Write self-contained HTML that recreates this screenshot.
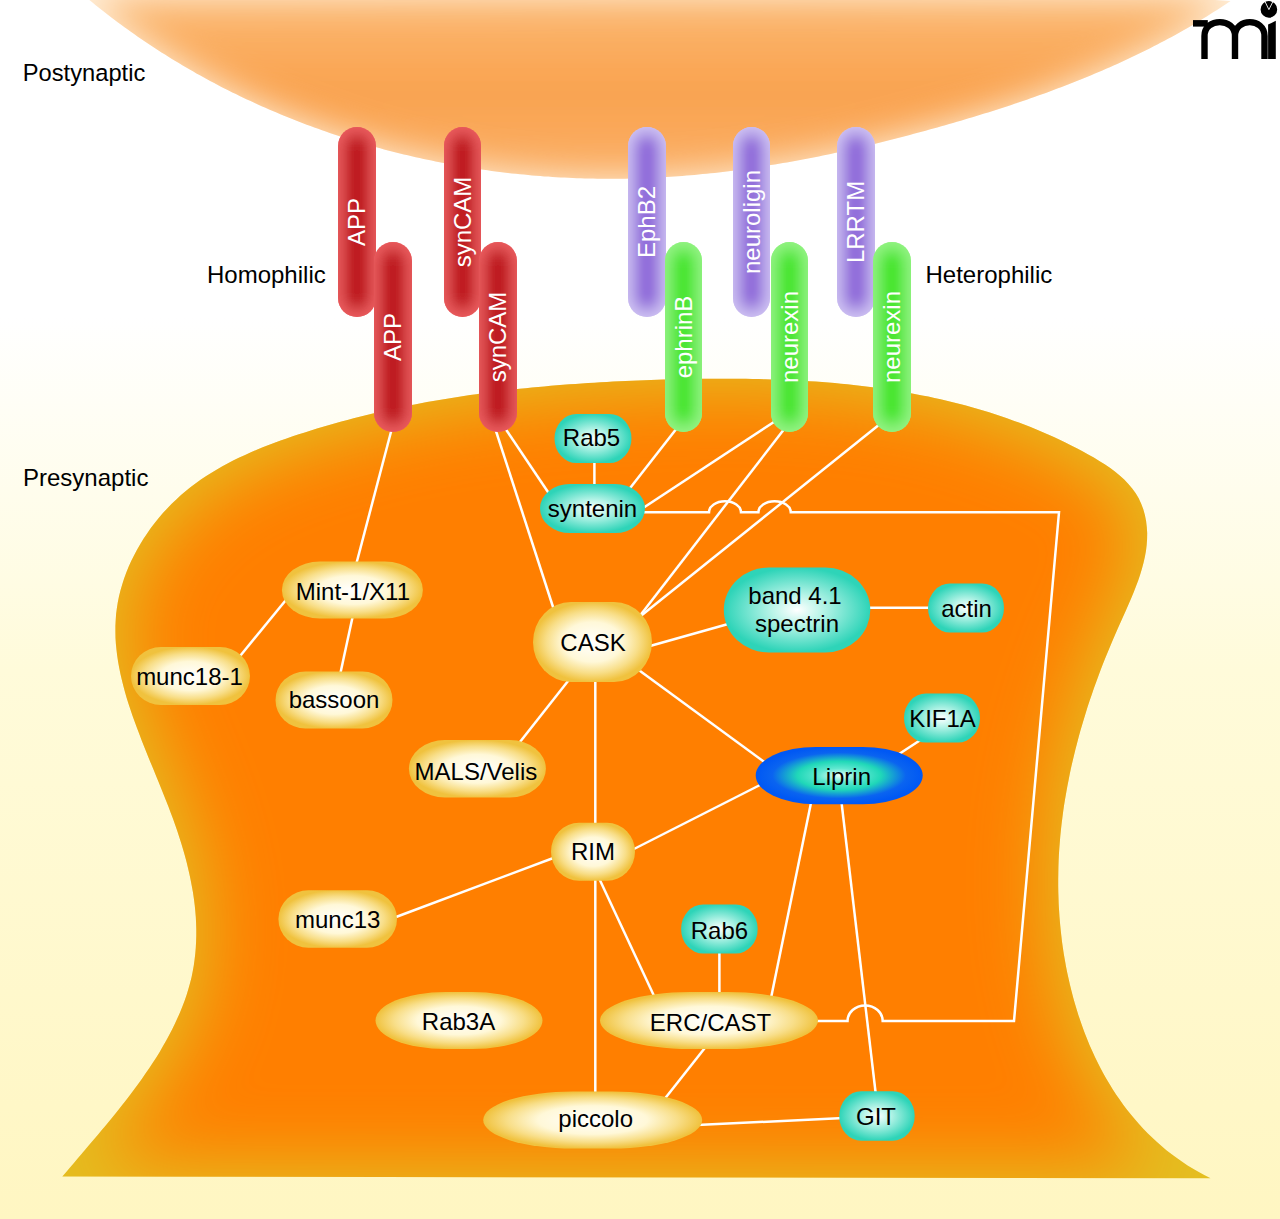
<!DOCTYPE html><html><head><meta charset="utf-8"><style>html,body{margin:0;padding:0;background:#fff;}svg{display:block;}text{font-family:"Liberation Sans", sans-serif;}</style></head><body>
<svg width="1280" height="1219" viewBox="0 0 1280 1219">
<defs>
<linearGradient id="bg" x1="0" y1="0" x2="0" y2="1219" gradientUnits="userSpaceOnUse"><stop offset="0.26" stop-color="#FFFFFF"/><stop offset="0.55" stop-color="#FFFBDA"/><stop offset="1" stop-color="#FFF6C2"/></linearGradient>
<filter id="blurPost" x="-20%" y="-50%" width="140%" height="200%"><feGaussianBlur stdDeviation="18"/></filter>
<linearGradient id="postG" x1="0" y1="0" x2="0" y2="180" gradientUnits="userSpaceOnUse"><stop offset="0" stop-color="#FBB872"/><stop offset="0.5" stop-color="#F9A24E"/><stop offset="1" stop-color="#FAB068"/></linearGradient>
<filter id="blurPre" x="-20%" y="-20%" width="140%" height="140%"><feMorphology operator="erode" radius="12"/><feGaussianBlur stdDeviation="36"/></filter>
<filter id="blurR" x="-50%" y="-50%" width="200%" height="200%"><feGaussianBlur stdDeviation="8"/></filter>
<clipPath id="cPost"><path d="M89.0,-0.3 L92.2,2.3 L95.4,4.9 L98.6,7.5 L101.8,10.0 L105.0,12.5 L108.2,15.0 L111.4,17.5 L114.7,20.0 L118.0,22.4 L121.2,24.8 L124.5,27.2 L127.8,29.6 L131.2,32.0 L134.5,34.3 L137.8,36.7 L141.2,39.0 L144.5,41.3 L147.9,43.5 L151.3,45.8 L154.7,48.0 L158.1,50.3 L161.5,52.4 L165.0,54.6 L168.4,56.8 L171.9,58.9 L175.3,61.0 L178.8,63.1 L182.3,65.2 L185.8,67.3 L189.3,69.3 L192.9,71.3 L196.4,73.4 L199.9,75.3 L203.5,77.3 L207.0,79.3 L210.6,81.2 L214.2,83.1 L217.8,85.0 L221.4,86.9 L225.0,88.7 L228.6,90.5 L232.3,92.4 L235.9,94.1 L239.6,95.9 L243.2,97.7 L246.9,99.4 L250.6,101.1 L254.2,102.8 L257.9,104.5 L261.6,106.2 L265.4,107.8 L269.1,109.5 L272.8,111.1 L276.5,112.6 L280.3,114.2 L284.0,115.8 L287.8,117.3 L291.6,118.8 L295.3,120.3 L299.1,121.8 L302.9,123.2 L306.7,124.7 L310.5,126.1 L314.3,127.5 L318.2,128.8 L322.0,130.2 L325.8,131.5 L329.7,132.9 L333.5,134.2 L337.4,135.5 L341.2,136.7 L345.1,138.0 L349.0,139.2 L352.9,140.4 L356.7,141.6 L360.6,142.8 L364.5,143.9 L368.4,145.0 L372.3,146.2 L376.3,147.3 L380.2,148.3 L384.1,149.4 L388.0,150.4 L392.0,151.5 L395.9,152.5 L399.9,153.4 L403.8,154.4 L407.8,155.3 L411.7,156.3 L415.7,157.2 L419.7,158.1 L423.6,158.9 L427.6,159.8 L431.6,160.6 L435.6,161.4 L439.6,162.2 L443.6,163.0 L447.6,163.8 L451.6,164.5 L455.6,165.2 L459.6,165.9 L463.6,166.6 L467.6,167.3 L471.6,167.9 L475.6,168.6 L479.7,169.2 L483.7,169.7 L487.7,170.3 L491.7,170.9 L495.8,171.4 L499.8,171.9 L503.8,172.4 L507.9,172.9 L511.9,173.4 L516.0,173.8 L520.0,174.2 L524.1,174.6 L528.1,175.0 L532.2,175.4 L536.2,175.7 L540.3,176.0 L544.3,176.4 L548.4,176.6 L552.5,176.9 L556.5,177.2 L560.6,177.4 L564.6,177.6 L568.7,177.8 L572.8,178.0 L576.8,178.2 L580.9,178.3 L584.9,178.4 L589.0,178.5 L593.1,178.6 L597.1,178.7 L601.2,178.7 L605.2,178.8 L609.3,178.8 L613.4,178.8 L617.4,178.8 L621.5,178.7 L625.6,178.7 L629.6,178.6 L633.7,178.5 L637.7,178.4 L641.8,178.2 L645.8,178.1 L649.9,177.9 L653.9,177.7 L658.0,177.5 L662.0,177.3 L666.1,177.0 L670.1,176.8 L674.2,176.5 L678.2,176.2 L682.3,175.9 L686.3,175.6 L690.3,175.2 L694.4,174.9 L698.4,174.5 L702.5,174.1 L706.5,173.7 L710.5,173.3 L714.6,172.9 L718.6,172.4 L722.6,171.9 L726.7,171.4 L730.7,170.9 L734.7,170.4 L738.7,169.9 L742.7,169.4 L746.8,168.8 L750.8,168.2 L754.8,167.6 L758.8,167.0 L762.8,166.4 L766.8,165.8 L770.8,165.1 L774.9,164.5 L778.9,163.8 L782.9,163.1 L786.9,162.4 L790.9,161.7 L794.9,161.0 L798.9,160.2 L802.8,159.5 L806.8,158.7 L810.8,158.0 L814.8,157.2 L818.8,156.4 L822.8,155.6 L826.8,154.7 L830.7,153.9 L834.7,153.0 L838.7,152.2 L842.7,151.3 L846.6,150.4 L850.6,149.5 L854.6,148.6 L858.5,147.7 L862.5,146.8 L866.4,145.8 L870.4,144.9 L874.4,143.9 L878.3,143.0 L882.3,142.0 L886.2,141.0 L890.1,140.0 L894.1,139.0 L898.0,138.0 L902.0,137.0 L905.9,135.9 L909.8,134.9 L913.8,133.8 L917.7,132.8 L921.6,131.7 L925.6,130.7 L929.5,129.6 L933.4,128.5 L937.3,127.4 L941.3,126.3 L945.2,125.2 L949.1,124.1 L953.0,122.9 L956.9,121.8 L960.8,120.7 L964.7,119.5 L968.6,118.3 L972.5,117.2 L976.4,116.0 L980.3,114.8 L984.2,113.6 L988.1,112.4 L992.0,111.2 L995.9,109.9 L999.7,108.7 L1003.6,107.4 L1007.5,106.2 L1011.3,104.9 L1015.2,103.6 L1019.1,102.3 L1022.9,101.0 L1026.8,99.7 L1030.6,98.3 L1034.4,97.0 L1038.3,95.6 L1042.1,94.3 L1045.9,92.9 L1049.7,91.5 L1053.5,90.1 L1057.3,88.6 L1061.1,87.2 L1064.9,85.8 L1068.7,84.3 L1072.5,82.8 L1076.2,81.3 L1080.0,79.8 L1083.8,78.3 L1087.5,76.7 L1091.2,75.2 L1095.0,73.6 L1098.7,72.0 L1102.4,70.4 L1106.1,68.8 L1109.9,67.2 L1113.6,65.6 L1117.2,63.9 L1120.9,62.2 L1124.6,60.5 L1128.3,58.8 L1131.9,57.1 L1135.6,55.3 L1139.2,53.6 L1142.9,51.8 L1146.5,50.0 L1150.1,48.2 L1153.7,46.3 L1157.3,44.5 L1160.9,42.6 L1164.5,40.7 L1168.0,38.8 L1171.6,36.9 L1175.2,34.9 L1178.7,32.9 L1182.2,30.9 L1185.8,28.9 L1189.3,26.9 L1192.8,24.9 L1196.3,22.8 L1199.7,20.7 L1203.2,18.6 L1206.7,16.5 L1210.1,14.3 L1213.5,12.1 L1217.0,9.9 L1220.4,7.7 L1223.8,5.5 L1227.2,3.2 L1230.5,0.9 L1180,-2 L660,-3 L140,-2 Z"/></clipPath>
<clipPath id="cPre"><path d="M62.3,1176.6 L66.0,1172.2 L69.8,1167.7 L73.7,1163.2 L77.6,1158.6 L81.5,1154.0 L85.5,1149.3 L89.5,1144.6 L93.6,1139.8 L97.7,1135.0 L101.8,1130.1 L105.9,1125.2 L110.0,1120.3 L114.1,1115.3 L118.1,1110.2 L122.2,1105.1 L126.2,1100.0 L130.2,1094.8 L134.1,1089.6 L138.0,1084.3 L141.8,1079.0 L145.5,1073.6 L149.2,1068.2 L152.8,1062.8 L156.3,1057.4 L159.7,1051.9 L162.9,1046.3 L166.1,1040.7 L169.2,1035.1 L172.1,1029.5 L174.9,1023.8 L177.5,1018.1 L180.0,1012.4 L182.4,1006.6 L184.6,1000.8 L186.6,995.0 L188.4,989.1 L190.0,983.3 L191.5,977.4 L192.7,971.4 L193.8,965.5 L194.6,959.5 L195.3,953.5 L195.8,947.5 L196.1,941.4 L196.3,935.4 L196.3,929.3 L196.1,923.2 L195.8,917.1 L195.3,911.0 L194.7,904.9 L193.9,898.7 L193.0,892.6 L191.9,886.4 L190.7,880.3 L189.4,874.1 L188.0,868.0 L186.5,861.8 L184.9,855.7 L183.1,849.5 L181.3,843.4 L179.3,837.2 L177.3,831.1 L175.2,825.0 L173.0,818.8 L170.7,812.7 L168.4,806.6 L166.0,800.5 L163.6,794.4 L161.1,788.3 L158.7,782.3 L156.2,776.2 L153.7,770.1 L151.2,764.1 L148.7,758.0 L146.3,752.0 L143.9,745.9 L141.5,739.9 L139.2,733.8 L136.9,727.8 L134.7,721.8 L132.5,715.8 L130.5,709.8 L128.5,703.7 L126.6,697.7 L124.9,691.7 L123.3,685.7 L121.8,679.8 L120.4,673.8 L119.2,667.8 L118.1,661.8 L117.2,655.8 L116.5,649.9 L115.9,643.9 L115.5,637.9 L115.4,632.0 L115.4,626.0 L115.7,620.0 L116.1,614.1 L116.9,608.1 L117.8,602.2 L119.0,596.2 L120.5,590.3 L122.2,584.4 L124.1,578.5 L126.3,572.6 L128.6,566.8 L131.2,561.1 L134.0,555.4 L137.0,549.8 L140.2,544.2 L143.5,538.8 L147.1,533.4 L150.8,528.1 L154.7,523.0 L158.7,518.0 L162.9,513.1 L167.2,508.4 L171.7,503.8 L176.3,499.4 L181.0,495.1 L185.8,491.0 L190.7,487.0 L195.8,483.2 L200.9,479.6 L206.2,476.1 L211.5,472.7 L216.9,469.4 L222.4,466.3 L228.0,463.3 L233.6,460.3 L239.3,457.5 L245.1,454.9 L250.9,452.3 L256.8,449.7 L262.7,447.3 L268.6,445.0 L274.6,442.7 L280.6,440.5 L286.6,438.4 L292.7,436.3 L298.8,434.3 L304.8,432.4 L310.9,430.5 L317.0,428.6 L323.1,426.8 L329.2,425.0 L335.3,423.2 L341.4,421.6 L347.5,419.9 L353.6,418.3 L359.7,416.7 L365.8,415.2 L371.9,413.7 L378.0,412.3 L384.1,410.9 L390.2,409.5 L396.3,408.2 L402.5,406.9 L408.6,405.6 L414.7,404.4 L420.9,403.2 L427.0,402.1 L433.2,401.0 L439.3,399.9 L445.5,398.9 L451.6,397.9 L457.8,396.9 L463.9,395.9 L470.1,395.0 L476.3,394.2 L482.4,393.3 L488.6,392.5 L494.8,391.7 L501.0,390.9 L507.2,390.2 L513.4,389.5 L519.6,388.8 L525.8,388.2 L532.0,387.6 L538.2,387.0 L544.4,386.4 L550.7,385.8 L556.9,385.3 L563.1,384.8 L569.4,384.3 L575.6,383.9 L581.9,383.5 L588.1,383.0 L594.4,382.7 L600.6,382.3 L606.9,381.9 L613.2,381.6 L619.5,381.3 L625.7,381.0 L632.0,380.7 L638.3,380.5 L644.6,380.3 L650.9,380.0 L657.2,379.8 L663.5,379.6 L669.9,379.5 L676.2,379.3 L682.5,379.2 L688.9,379.0 L695.2,378.9 L701.5,378.8 L707.9,378.8 L714.2,378.7 L720.6,378.7 L726.9,378.7 L733.3,378.7 L739.6,378.8 L746.0,378.8 L752.3,378.9 L758.7,379.1 L765.0,379.2 L771.4,379.4 L777.7,379.6 L784.1,379.9 L790.4,380.1 L796.8,380.5 L803.1,380.8 L809.4,381.2 L815.7,381.6 L822.1,382.1 L828.4,382.6 L834.7,383.1 L841.0,383.7 L847.3,384.3 L853.6,385.0 L859.9,385.7 L866.1,386.5 L872.4,387.3 L878.6,388.1 L884.9,389.0 L891.1,389.9 L897.3,390.9 L903.5,392.0 L909.7,393.1 L915.9,394.2 L922.1,395.4 L928.3,396.6 L934.4,397.9 L940.6,399.3 L946.7,400.7 L952.8,402.2 L958.9,403.7 L965.0,405.3 L971.0,407.0 L977.1,408.7 L983.1,410.5 L989.1,412.3 L995.1,414.3 L1001.1,416.2 L1007.0,418.3 L1012.9,420.4 L1018.9,422.6 L1024.8,424.8 L1030.6,427.1 L1036.5,429.5 L1042.3,432.0 L1048.1,434.5 L1053.9,437.1 L1059.7,439.8 L1065.4,442.6 L1071.2,445.4 L1076.8,448.3 L1082.5,451.3 L1088.2,454.4 L1093.8,457.6 L1099.3,460.9 L1104.7,464.3 L1109.9,467.8 L1114.9,471.6 L1119.7,475.5 L1124.2,479.6 L1128.4,483.9 L1132.2,488.4 L1135.7,493.2 L1138.7,498.3 L1141.2,503.7 L1143.3,509.3 L1144.9,515.1 L1146.1,521.1 L1146.8,527.0 L1147.2,532.9 L1147.1,538.9 L1146.7,544.8 L1146.0,550.7 L1144.9,556.7 L1143.6,562.6 L1142.0,568.5 L1140.2,574.5 L1138.2,580.4 L1136.0,586.3 L1133.7,592.2 L1131.2,598.2 L1128.7,604.1 L1126.1,610.1 L1123.4,616.0 L1120.7,622.0 L1118.0,628.0 L1115.4,634.0 L1112.8,640.0 L1110.3,646.0 L1107.8,652.0 L1105.3,658.0 L1102.9,664.1 L1100.6,670.1 L1098.3,676.2 L1096.1,682.3 L1093.9,688.3 L1091.8,694.4 L1089.7,700.5 L1087.7,706.6 L1085.8,712.7 L1083.9,718.9 L1082.1,725.0 L1080.3,731.1 L1078.6,737.2 L1077.0,743.4 L1075.4,749.5 L1073.9,755.7 L1072.4,761.9 L1071.0,768.0 L1069.7,774.2 L1068.5,780.4 L1067.3,786.6 L1066.2,792.7 L1065.1,798.9 L1064.1,805.1 L1063.2,811.3 L1062.4,817.5 L1061.6,823.7 L1060.9,829.9 L1060.3,836.1 L1059.8,842.3 L1059.3,848.5 L1058.9,854.8 L1058.6,861.0 L1058.4,867.2 L1058.3,873.4 L1058.2,879.6 L1058.2,885.8 L1058.3,892.0 L1058.5,898.2 L1058.7,904.5 L1059.1,910.7 L1059.5,916.9 L1060.0,923.1 L1060.6,929.3 L1061.3,935.5 L1062.0,941.7 L1062.9,947.9 L1063.8,954.1 L1064.9,960.3 L1066.0,966.4 L1067.2,972.6 L1068.6,978.8 L1070.0,984.9 L1071.5,991.1 L1073.1,997.2 L1074.8,1003.3 L1076.6,1009.3 L1078.5,1015.4 L1080.5,1021.3 L1082.6,1027.3 L1084.8,1033.2 L1087.1,1039.1 L1089.5,1044.9 L1092.1,1050.7 L1094.7,1056.4 L1097.4,1062.1 L1100.3,1067.7 L1103.2,1073.2 L1106.3,1078.7 L1109.5,1084.1 L1112.8,1089.4 L1116.2,1094.7 L1119.8,1099.8 L1123.4,1104.9 L1127.2,1109.9 L1131.1,1114.8 L1135.1,1119.6 L1139.2,1124.3 L1143.5,1128.9 L1147.9,1133.4 L1152.4,1137.8 L1157.0,1142.1 L1161.8,1146.3 L1166.7,1150.4 L1171.7,1154.3 L1176.9,1158.1 L1182.2,1161.8 L1187.6,1165.4 L1193.1,1168.8 L1198.8,1172.1 L1204.7,1175.2 L1210.6,1178.2 Z"/></clipPath>
<clipPath id="cR0"><path d="M338.0,146.0 A19.0,19.0 0 0 1 376.0,146.0 L376.0,298.0 A19.0,19.0 0 0 1 338.0,298.0 Z"/></clipPath>
<clipPath id="cR1"><path d="M444.0,145.5 A18.5,18.5 0 0 1 481.0,145.5 L481.0,298.5 A18.5,18.5 0 0 1 444.0,298.5 Z"/></clipPath>
<clipPath id="cR2"><path d="M374.0,261.0 A19.0,19.0 0 0 1 412.0,261.0 L412.0,413.0 A19.0,19.0 0 0 1 374.0,413.0 Z"/></clipPath>
<clipPath id="cR3"><path d="M479.0,261.0 A19.0,19.0 0 0 1 517.0,261.0 L517.0,413.0 A19.0,19.0 0 0 1 479.0,413.0 Z"/></clipPath>
<clipPath id="cR4"><path d="M628.0,146.0 A19.0,19.0 0 0 1 666.0,146.0 L666.0,298.0 A19.0,19.0 0 0 1 628.0,298.0 Z"/></clipPath>
<clipPath id="cR5"><path d="M733.0,145.5 A18.5,18.5 0 0 1 770.0,145.5 L770.0,298.5 A18.5,18.5 0 0 1 733.0,298.5 Z"/></clipPath>
<clipPath id="cR6"><path d="M837.0,146.0 A19.0,19.0 0 0 1 875.0,146.0 L875.0,298.0 A19.0,19.0 0 0 1 837.0,298.0 Z"/></clipPath>
<clipPath id="cR7"><path d="M665.0,260.5 A18.5,18.5 0 0 1 702.0,260.5 L702.0,413.5 A18.5,18.5 0 0 1 665.0,413.5 Z"/></clipPath>
<clipPath id="cR8"><path d="M771.0,260.5 A18.5,18.5 0 0 1 808.0,260.5 L808.0,413.5 A18.5,18.5 0 0 1 771.0,413.5 Z"/></clipPath>
<clipPath id="cR9"><path d="M873.0,261.0 A19.0,19.0 0 0 1 911.0,261.0 L911.0,413.0 A19.0,19.0 0 0 1 873.0,413.0 Z"/></clipPath>
<radialGradient id="gY" cx="0.5" cy="0.5" r="0.5"><stop offset="0" stop-color="#FFFFFF"/><stop offset="0.5" stop-color="#FFF8D8"/><stop offset="0.78" stop-color="#F8DE88"/><stop offset="1" stop-color="#F0C23E"/></radialGradient>
<radialGradient id="gT" cx="0.5" cy="0.5" r="0.5"><stop offset="0" stop-color="#FFFFFF"/><stop offset="0.35" stop-color="#B8F4E8"/><stop offset="1" stop-color="#2ED4B8"/></radialGradient>
<radialGradient id="gB" cx="0.5" cy="0.5" r="0.5"><stop offset="0" stop-color="#E8FFF8"/><stop offset="0.25" stop-color="#60E8D0"/><stop offset="0.5" stop-color="#20D8B8"/><stop offset="0.8" stop-color="#0A64F0"/><stop offset="1" stop-color="#0058F4"/></radialGradient>
</defs>
<rect width="1280" height="1219" fill="url(#bg)"/>
<g clip-path="url(#cPost)"><rect x="0" y="-20" width="1280" height="220" fill="#FFF0DC"/>
<path d="M89.0,-0.3 L92.2,2.3 L95.4,4.9 L98.6,7.5 L101.8,10.0 L105.0,12.5 L108.2,15.0 L111.4,17.5 L114.7,20.0 L118.0,22.4 L121.2,24.8 L124.5,27.2 L127.8,29.6 L131.2,32.0 L134.5,34.3 L137.8,36.7 L141.2,39.0 L144.5,41.3 L147.9,43.5 L151.3,45.8 L154.7,48.0 L158.1,50.3 L161.5,52.4 L165.0,54.6 L168.4,56.8 L171.9,58.9 L175.3,61.0 L178.8,63.1 L182.3,65.2 L185.8,67.3 L189.3,69.3 L192.9,71.3 L196.4,73.4 L199.9,75.3 L203.5,77.3 L207.0,79.3 L210.6,81.2 L214.2,83.1 L217.8,85.0 L221.4,86.9 L225.0,88.7 L228.6,90.5 L232.3,92.4 L235.9,94.1 L239.6,95.9 L243.2,97.7 L246.9,99.4 L250.6,101.1 L254.2,102.8 L257.9,104.5 L261.6,106.2 L265.4,107.8 L269.1,109.5 L272.8,111.1 L276.5,112.6 L280.3,114.2 L284.0,115.8 L287.8,117.3 L291.6,118.8 L295.3,120.3 L299.1,121.8 L302.9,123.2 L306.7,124.7 L310.5,126.1 L314.3,127.5 L318.2,128.8 L322.0,130.2 L325.8,131.5 L329.7,132.9 L333.5,134.2 L337.4,135.5 L341.2,136.7 L345.1,138.0 L349.0,139.2 L352.9,140.4 L356.7,141.6 L360.6,142.8 L364.5,143.9 L368.4,145.0 L372.3,146.2 L376.3,147.3 L380.2,148.3 L384.1,149.4 L388.0,150.4 L392.0,151.5 L395.9,152.5 L399.9,153.4 L403.8,154.4 L407.8,155.3 L411.7,156.3 L415.7,157.2 L419.7,158.1 L423.6,158.9 L427.6,159.8 L431.6,160.6 L435.6,161.4 L439.6,162.2 L443.6,163.0 L447.6,163.8 L451.6,164.5 L455.6,165.2 L459.6,165.9 L463.6,166.6 L467.6,167.3 L471.6,167.9 L475.6,168.6 L479.7,169.2 L483.7,169.7 L487.7,170.3 L491.7,170.9 L495.8,171.4 L499.8,171.9 L503.8,172.4 L507.9,172.9 L511.9,173.4 L516.0,173.8 L520.0,174.2 L524.1,174.6 L528.1,175.0 L532.2,175.4 L536.2,175.7 L540.3,176.0 L544.3,176.4 L548.4,176.6 L552.5,176.9 L556.5,177.2 L560.6,177.4 L564.6,177.6 L568.7,177.8 L572.8,178.0 L576.8,178.2 L580.9,178.3 L584.9,178.4 L589.0,178.5 L593.1,178.6 L597.1,178.7 L601.2,178.7 L605.2,178.8 L609.3,178.8 L613.4,178.8 L617.4,178.8 L621.5,178.7 L625.6,178.7 L629.6,178.6 L633.7,178.5 L637.7,178.4 L641.8,178.2 L645.8,178.1 L649.9,177.9 L653.9,177.7 L658.0,177.5 L662.0,177.3 L666.1,177.0 L670.1,176.8 L674.2,176.5 L678.2,176.2 L682.3,175.9 L686.3,175.6 L690.3,175.2 L694.4,174.9 L698.4,174.5 L702.5,174.1 L706.5,173.7 L710.5,173.3 L714.6,172.9 L718.6,172.4 L722.6,171.9 L726.7,171.4 L730.7,170.9 L734.7,170.4 L738.7,169.9 L742.7,169.4 L746.8,168.8 L750.8,168.2 L754.8,167.6 L758.8,167.0 L762.8,166.4 L766.8,165.8 L770.8,165.1 L774.9,164.5 L778.9,163.8 L782.9,163.1 L786.9,162.4 L790.9,161.7 L794.9,161.0 L798.9,160.2 L802.8,159.5 L806.8,158.7 L810.8,158.0 L814.8,157.2 L818.8,156.4 L822.8,155.6 L826.8,154.7 L830.7,153.9 L834.7,153.0 L838.7,152.2 L842.7,151.3 L846.6,150.4 L850.6,149.5 L854.6,148.6 L858.5,147.7 L862.5,146.8 L866.4,145.8 L870.4,144.9 L874.4,143.9 L878.3,143.0 L882.3,142.0 L886.2,141.0 L890.1,140.0 L894.1,139.0 L898.0,138.0 L902.0,137.0 L905.9,135.9 L909.8,134.9 L913.8,133.8 L917.7,132.8 L921.6,131.7 L925.6,130.7 L929.5,129.6 L933.4,128.5 L937.3,127.4 L941.3,126.3 L945.2,125.2 L949.1,124.1 L953.0,122.9 L956.9,121.8 L960.8,120.7 L964.7,119.5 L968.6,118.3 L972.5,117.2 L976.4,116.0 L980.3,114.8 L984.2,113.6 L988.1,112.4 L992.0,111.2 L995.9,109.9 L999.7,108.7 L1003.6,107.4 L1007.5,106.2 L1011.3,104.9 L1015.2,103.6 L1019.1,102.3 L1022.9,101.0 L1026.8,99.7 L1030.6,98.3 L1034.4,97.0 L1038.3,95.6 L1042.1,94.3 L1045.9,92.9 L1049.7,91.5 L1053.5,90.1 L1057.3,88.6 L1061.1,87.2 L1064.9,85.8 L1068.7,84.3 L1072.5,82.8 L1076.2,81.3 L1080.0,79.8 L1083.8,78.3 L1087.5,76.7 L1091.2,75.2 L1095.0,73.6 L1098.7,72.0 L1102.4,70.4 L1106.1,68.8 L1109.9,67.2 L1113.6,65.6 L1117.2,63.9 L1120.9,62.2 L1124.6,60.5 L1128.3,58.8 L1131.9,57.1 L1135.6,55.3 L1139.2,53.6 L1142.9,51.8 L1146.5,50.0 L1150.1,48.2 L1153.7,46.3 L1157.3,44.5 L1160.9,42.6 L1164.5,40.7 L1168.0,38.8 L1171.6,36.9 L1175.2,34.9 L1178.7,32.9 L1182.2,30.9 L1185.8,28.9 L1189.3,26.9 L1192.8,24.9 L1196.3,22.8 L1199.7,20.7 L1203.2,18.6 L1206.7,16.5 L1210.1,14.3 L1213.5,12.1 L1217.0,9.9 L1220.4,7.7 L1223.8,5.5 L1227.2,3.2 L1230.5,0.9 L1180,-2 L660,-3 L140,-2 Z" fill="url(#postG)" filter="url(#blurPost)"/></g>
<g clip-path="url(#cPre)"><rect x="0" y="350" width="1280" height="869" fill="#E4BE20"/>
<path d="M62.3,1176.6 L66.0,1172.2 L69.8,1167.7 L73.7,1163.2 L77.6,1158.6 L81.5,1154.0 L85.5,1149.3 L89.5,1144.6 L93.6,1139.8 L97.7,1135.0 L101.8,1130.1 L105.9,1125.2 L110.0,1120.3 L114.1,1115.3 L118.1,1110.2 L122.2,1105.1 L126.2,1100.0 L130.2,1094.8 L134.1,1089.6 L138.0,1084.3 L141.8,1079.0 L145.5,1073.6 L149.2,1068.2 L152.8,1062.8 L156.3,1057.4 L159.7,1051.9 L162.9,1046.3 L166.1,1040.7 L169.2,1035.1 L172.1,1029.5 L174.9,1023.8 L177.5,1018.1 L180.0,1012.4 L182.4,1006.6 L184.6,1000.8 L186.6,995.0 L188.4,989.1 L190.0,983.3 L191.5,977.4 L192.7,971.4 L193.8,965.5 L194.6,959.5 L195.3,953.5 L195.8,947.5 L196.1,941.4 L196.3,935.4 L196.3,929.3 L196.1,923.2 L195.8,917.1 L195.3,911.0 L194.7,904.9 L193.9,898.7 L193.0,892.6 L191.9,886.4 L190.7,880.3 L189.4,874.1 L188.0,868.0 L186.5,861.8 L184.9,855.7 L183.1,849.5 L181.3,843.4 L179.3,837.2 L177.3,831.1 L175.2,825.0 L173.0,818.8 L170.7,812.7 L168.4,806.6 L166.0,800.5 L163.6,794.4 L161.1,788.3 L158.7,782.3 L156.2,776.2 L153.7,770.1 L151.2,764.1 L148.7,758.0 L146.3,752.0 L143.9,745.9 L141.5,739.9 L139.2,733.8 L136.9,727.8 L134.7,721.8 L132.5,715.8 L130.5,709.8 L128.5,703.7 L126.6,697.7 L124.9,691.7 L123.3,685.7 L121.8,679.8 L120.4,673.8 L119.2,667.8 L118.1,661.8 L117.2,655.8 L116.5,649.9 L115.9,643.9 L115.5,637.9 L115.4,632.0 L115.4,626.0 L115.7,620.0 L116.1,614.1 L116.9,608.1 L117.8,602.2 L119.0,596.2 L120.5,590.3 L122.2,584.4 L124.1,578.5 L126.3,572.6 L128.6,566.8 L131.2,561.1 L134.0,555.4 L137.0,549.8 L140.2,544.2 L143.5,538.8 L147.1,533.4 L150.8,528.1 L154.7,523.0 L158.7,518.0 L162.9,513.1 L167.2,508.4 L171.7,503.8 L176.3,499.4 L181.0,495.1 L185.8,491.0 L190.7,487.0 L195.8,483.2 L200.9,479.6 L206.2,476.1 L211.5,472.7 L216.9,469.4 L222.4,466.3 L228.0,463.3 L233.6,460.3 L239.3,457.5 L245.1,454.9 L250.9,452.3 L256.8,449.7 L262.7,447.3 L268.6,445.0 L274.6,442.7 L280.6,440.5 L286.6,438.4 L292.7,436.3 L298.8,434.3 L304.8,432.4 L310.9,430.5 L317.0,428.6 L323.1,426.8 L329.2,425.0 L335.3,423.2 L341.4,421.6 L347.5,419.9 L353.6,418.3 L359.7,416.7 L365.8,415.2 L371.9,413.7 L378.0,412.3 L384.1,410.9 L390.2,409.5 L396.3,408.2 L402.5,406.9 L408.6,405.6 L414.7,404.4 L420.9,403.2 L427.0,402.1 L433.2,401.0 L439.3,399.9 L445.5,398.9 L451.6,397.9 L457.8,396.9 L463.9,395.9 L470.1,395.0 L476.3,394.2 L482.4,393.3 L488.6,392.5 L494.8,391.7 L501.0,390.9 L507.2,390.2 L513.4,389.5 L519.6,388.8 L525.8,388.2 L532.0,387.6 L538.2,387.0 L544.4,386.4 L550.7,385.8 L556.9,385.3 L563.1,384.8 L569.4,384.3 L575.6,383.9 L581.9,383.5 L588.1,383.0 L594.4,382.7 L600.6,382.3 L606.9,381.9 L613.2,381.6 L619.5,381.3 L625.7,381.0 L632.0,380.7 L638.3,380.5 L644.6,380.3 L650.9,380.0 L657.2,379.8 L663.5,379.6 L669.9,379.5 L676.2,379.3 L682.5,379.2 L688.9,379.0 L695.2,378.9 L701.5,378.8 L707.9,378.8 L714.2,378.7 L720.6,378.7 L726.9,378.7 L733.3,378.7 L739.6,378.8 L746.0,378.8 L752.3,378.9 L758.7,379.1 L765.0,379.2 L771.4,379.4 L777.7,379.6 L784.1,379.9 L790.4,380.1 L796.8,380.5 L803.1,380.8 L809.4,381.2 L815.7,381.6 L822.1,382.1 L828.4,382.6 L834.7,383.1 L841.0,383.7 L847.3,384.3 L853.6,385.0 L859.9,385.7 L866.1,386.5 L872.4,387.3 L878.6,388.1 L884.9,389.0 L891.1,389.9 L897.3,390.9 L903.5,392.0 L909.7,393.1 L915.9,394.2 L922.1,395.4 L928.3,396.6 L934.4,397.9 L940.6,399.3 L946.7,400.7 L952.8,402.2 L958.9,403.7 L965.0,405.3 L971.0,407.0 L977.1,408.7 L983.1,410.5 L989.1,412.3 L995.1,414.3 L1001.1,416.2 L1007.0,418.3 L1012.9,420.4 L1018.9,422.6 L1024.8,424.8 L1030.6,427.1 L1036.5,429.5 L1042.3,432.0 L1048.1,434.5 L1053.9,437.1 L1059.7,439.8 L1065.4,442.6 L1071.2,445.4 L1076.8,448.3 L1082.5,451.3 L1088.2,454.4 L1093.8,457.6 L1099.3,460.9 L1104.7,464.3 L1109.9,467.8 L1114.9,471.6 L1119.7,475.5 L1124.2,479.6 L1128.4,483.9 L1132.2,488.4 L1135.7,493.2 L1138.7,498.3 L1141.2,503.7 L1143.3,509.3 L1144.9,515.1 L1146.1,521.1 L1146.8,527.0 L1147.2,532.9 L1147.1,538.9 L1146.7,544.8 L1146.0,550.7 L1144.9,556.7 L1143.6,562.6 L1142.0,568.5 L1140.2,574.5 L1138.2,580.4 L1136.0,586.3 L1133.7,592.2 L1131.2,598.2 L1128.7,604.1 L1126.1,610.1 L1123.4,616.0 L1120.7,622.0 L1118.0,628.0 L1115.4,634.0 L1112.8,640.0 L1110.3,646.0 L1107.8,652.0 L1105.3,658.0 L1102.9,664.1 L1100.6,670.1 L1098.3,676.2 L1096.1,682.3 L1093.9,688.3 L1091.8,694.4 L1089.7,700.5 L1087.7,706.6 L1085.8,712.7 L1083.9,718.9 L1082.1,725.0 L1080.3,731.1 L1078.6,737.2 L1077.0,743.4 L1075.4,749.5 L1073.9,755.7 L1072.4,761.9 L1071.0,768.0 L1069.7,774.2 L1068.5,780.4 L1067.3,786.6 L1066.2,792.7 L1065.1,798.9 L1064.1,805.1 L1063.2,811.3 L1062.4,817.5 L1061.6,823.7 L1060.9,829.9 L1060.3,836.1 L1059.8,842.3 L1059.3,848.5 L1058.9,854.8 L1058.6,861.0 L1058.4,867.2 L1058.3,873.4 L1058.2,879.6 L1058.2,885.8 L1058.3,892.0 L1058.5,898.2 L1058.7,904.5 L1059.1,910.7 L1059.5,916.9 L1060.0,923.1 L1060.6,929.3 L1061.3,935.5 L1062.0,941.7 L1062.9,947.9 L1063.8,954.1 L1064.9,960.3 L1066.0,966.4 L1067.2,972.6 L1068.6,978.8 L1070.0,984.9 L1071.5,991.1 L1073.1,997.2 L1074.8,1003.3 L1076.6,1009.3 L1078.5,1015.4 L1080.5,1021.3 L1082.6,1027.3 L1084.8,1033.2 L1087.1,1039.1 L1089.5,1044.9 L1092.1,1050.7 L1094.7,1056.4 L1097.4,1062.1 L1100.3,1067.7 L1103.2,1073.2 L1106.3,1078.7 L1109.5,1084.1 L1112.8,1089.4 L1116.2,1094.7 L1119.8,1099.8 L1123.4,1104.9 L1127.2,1109.9 L1131.1,1114.8 L1135.1,1119.6 L1139.2,1124.3 L1143.5,1128.9 L1147.9,1133.4 L1152.4,1137.8 L1157.0,1142.1 L1161.8,1146.3 L1166.7,1150.4 L1171.7,1154.3 L1176.9,1158.1 L1182.2,1161.8 L1187.6,1165.4 L1193.1,1168.8 L1198.8,1172.1 L1204.7,1175.2 L1210.6,1178.2 Z" fill="#FF7F00" filter="url(#blurPre)"/></g>
<g stroke="#FFFFFF" stroke-width="2.5" fill="none" stroke-linecap="butt">
<line x1="392.0" y1="428.0" x2="356.0" y2="565.0"/>
<line x1="290.0" y1="595.0" x2="236.0" y2="661.0"/>
<line x1="353.0" y1="615.0" x2="340.0" y2="675.0"/>
<line x1="495.0" y1="428.0" x2="554.0" y2="610.0"/>
<line x1="505.0" y1="428.0" x2="552.0" y2="498.0"/>
<line x1="594.4" y1="458.0" x2="594.4" y2="488.0"/>
<line x1="677.0" y1="428.0" x2="627.0" y2="492.0"/>
<line x1="777.0" y1="420.0" x2="640.0" y2="510.0"/>
<line x1="785.0" y1="428.0" x2="639.0" y2="617.0"/>
<line x1="880.0" y1="424.0" x2="637.0" y2="619.0"/>
<line x1="650.0" y1="646.0" x2="730.0" y2="623.5"/>
<line x1="865.0" y1="607.8" x2="932.0" y2="607.8"/>
<line x1="572.0" y1="676.0" x2="516.0" y2="747.0"/>
<line x1="595.3" y1="676.0" x2="595.3" y2="1096.0"/>
<line x1="636.0" y1="668.0" x2="767.0" y2="764.0"/>
<line x1="922.0" y1="739.0" x2="896.0" y2="756.0"/>
<line x1="630.0" y1="851.0" x2="762.0" y2="784.0"/>
<line x1="556.0" y1="857.0" x2="396.0" y2="917.0"/>
<line x1="598.0" y1="876.0" x2="655.0" y2="998.0"/>
<line x1="719.4" y1="948.0" x2="719.4" y2="997.0"/>
<line x1="812.0" y1="798.0" x2="771.0" y2="998.0"/>
<line x1="841.0" y1="798.0" x2="876.0" y2="1096.0"/>
<line x1="708.0" y1="1044.0" x2="663.0" y2="1101.0"/>
<line x1="697.0" y1="1125.0" x2="844.0" y2="1118.0"/>
<path d="M636,512.3 L709.0,512.3 A16.0,11.0 0 0 1 741.0,512.3 L758.4,512.3 A16.2,11.0 0 0 1 790.8,512.3 L1059,512.3 L1014,1021 L882.7,1021 A17.6,15.5 0 0 0 847.5,1021 L813,1021" stroke-linejoin="miter"/>
</g>
<g clip-path="url(#cR0)"><rect x="336" y="125" width="42" height="194" fill="#EE6062"/>
<path d="M338.0,146.0 A19.0,19.0 0 0 1 376.0,146.0 L376.0,298.0 A19.0,19.0 0 0 1 338.0,298.0 Z" fill="#BA000C" stroke="#EE6062" stroke-width="12" filter="url(#blurR)"/></g>
<text x="0" y="0" transform="translate(357.0,222.0) rotate(-90)" text-anchor="middle" font-size="24" fill="#FFFFFF" dy="8.3">APP</text>
<g clip-path="url(#cR1)"><rect x="442" y="125" width="41" height="194" fill="#EE6062"/>
<path d="M444.0,145.5 A18.5,18.5 0 0 1 481.0,145.5 L481.0,298.5 A18.5,18.5 0 0 1 444.0,298.5 Z" fill="#BA000C" stroke="#EE6062" stroke-width="12" filter="url(#blurR)"/></g>
<text x="0" y="0" transform="translate(462.5,222.0) rotate(-90)" text-anchor="middle" font-size="24" fill="#FFFFFF" dy="8.3">synCAM</text>
<g clip-path="url(#cR2)"><rect x="372" y="240" width="42" height="194" fill="#EE6062"/>
<path d="M374.0,261.0 A19.0,19.0 0 0 1 412.0,261.0 L412.0,413.0 A19.0,19.0 0 0 1 374.0,413.0 Z" fill="#BA000C" stroke="#EE6062" stroke-width="12" filter="url(#blurR)"/></g>
<text x="0" y="0" transform="translate(393.0,337.0) rotate(-90)" text-anchor="middle" font-size="24" fill="#FFFFFF" dy="8.3">APP</text>
<g clip-path="url(#cR3)"><rect x="477" y="240" width="42" height="194" fill="#EE6062"/>
<path d="M479.0,261.0 A19.0,19.0 0 0 1 517.0,261.0 L517.0,413.0 A19.0,19.0 0 0 1 479.0,413.0 Z" fill="#BA000C" stroke="#EE6062" stroke-width="12" filter="url(#blurR)"/></g>
<text x="0" y="0" transform="translate(498.0,337.0) rotate(-90)" text-anchor="middle" font-size="24" fill="#FFFFFF" dy="8.3">synCAM</text>
<g clip-path="url(#cR4)"><rect x="626" y="125" width="42" height="194" fill="#D2C6F4"/>
<path d="M628.0,146.0 A19.0,19.0 0 0 1 666.0,146.0 L666.0,298.0 A19.0,19.0 0 0 1 628.0,298.0 Z" fill="#8A62D8" stroke="#D2C6F4" stroke-width="12" filter="url(#blurR)"/></g>
<text x="0" y="0" transform="translate(647.0,222.0) rotate(-90)" text-anchor="middle" font-size="24" fill="#FFFFFF" dy="8.3">EphB2</text>
<g clip-path="url(#cR5)"><rect x="731" y="125" width="41" height="194" fill="#D2C6F4"/>
<path d="M733.0,145.5 A18.5,18.5 0 0 1 770.0,145.5 L770.0,298.5 A18.5,18.5 0 0 1 733.0,298.5 Z" fill="#8A62D8" stroke="#D2C6F4" stroke-width="12" filter="url(#blurR)"/></g>
<text x="0" y="0" transform="translate(751.5,222.0) rotate(-90)" text-anchor="middle" font-size="24" fill="#FFFFFF" dy="8.3">neuroligin</text>
<g clip-path="url(#cR6)"><rect x="835" y="125" width="42" height="194" fill="#D2C6F4"/>
<path d="M837.0,146.0 A19.0,19.0 0 0 1 875.0,146.0 L875.0,298.0 A19.0,19.0 0 0 1 837.0,298.0 Z" fill="#8A62D8" stroke="#D2C6F4" stroke-width="12" filter="url(#blurR)"/></g>
<text x="0" y="0" transform="translate(856.0,222.0) rotate(-90)" text-anchor="middle" font-size="24" fill="#FFFFFF" dy="8.3">LRRTM</text>
<g clip-path="url(#cR7)"><rect x="663" y="240" width="41" height="194" fill="#98F488"/>
<path d="M665.0,260.5 A18.5,18.5 0 0 1 702.0,260.5 L702.0,413.5 A18.5,18.5 0 0 1 665.0,413.5 Z" fill="#3EE41E" stroke="#98F488" stroke-width="12" filter="url(#blurR)"/></g>
<text x="0" y="0" transform="translate(683.5,337.0) rotate(-90)" text-anchor="middle" font-size="24" fill="#FFFFFF" dy="8.3">ephrinB</text>
<g clip-path="url(#cR8)"><rect x="769" y="240" width="41" height="194" fill="#98F488"/>
<path d="M771.0,260.5 A18.5,18.5 0 0 1 808.0,260.5 L808.0,413.5 A18.5,18.5 0 0 1 771.0,413.5 Z" fill="#3EE41E" stroke="#98F488" stroke-width="12" filter="url(#blurR)"/></g>
<text x="0" y="0" transform="translate(789.5,337.0) rotate(-90)" text-anchor="middle" font-size="24" fill="#FFFFFF" dy="8.3">neurexin</text>
<g clip-path="url(#cR9)"><rect x="871" y="240" width="42" height="194" fill="#98F488"/>
<path d="M873.0,261.0 A19.0,19.0 0 0 1 911.0,261.0 L911.0,413.0 A19.0,19.0 0 0 1 873.0,413.0 Z" fill="#3EE41E" stroke="#98F488" stroke-width="12" filter="url(#blurR)"/></g>
<text x="0" y="0" transform="translate(892.0,337.0) rotate(-90)" text-anchor="middle" font-size="24" fill="#FFFFFF" dy="8.3">neurexin</text>
<rect x="281.9" y="561.5" width="141.0" height="57.0" rx="38.0" ry="28.5" fill="url(#gY)"/>
<text x="352.9" y="600.3" text-anchor="middle" font-size="24" fill="#000">Mint-1/X11</text>
<rect x="131.0" y="647.0" width="119.0" height="58.0" rx="30.0" ry="29.0" fill="url(#gY)"/>
<text x="189.5" y="684.8" text-anchor="middle" font-size="24" fill="#000">munc18-1</text>
<rect x="275.5" y="671.5" width="117.0" height="57.0" rx="30.0" ry="28.5" fill="url(#gY)"/>
<text x="334.0" y="708.3" text-anchor="middle" font-size="24" fill="#000">bassoon</text>
<rect x="533.0" y="602.0" width="119.0" height="80.0" rx="38.0" ry="40.0" fill="url(#gY)"/>
<text x="593.0" y="650.8" text-anchor="middle" font-size="24" fill="#000">CASK</text>
<rect x="408.9" y="740.0" width="137.0" height="57.5" rx="36.0" ry="28.8" fill="url(#gY)"/>
<text x="475.9" y="779.5" text-anchor="middle" font-size="24" fill="#000">MALS/Velis</text>
<rect x="551.0" y="822.7" width="84.0" height="58.0" rx="28.0" ry="29.0" fill="url(#gY)"/>
<text x="593.0" y="860.3" text-anchor="middle" font-size="24" fill="#000">RIM</text>
<rect x="278.4" y="890.2" width="118.6" height="57.6" rx="30.0" ry="28.8" fill="url(#gY)"/>
<text x="337.7" y="928.3" text-anchor="middle" font-size="24" fill="#000">munc13</text>
<rect x="375.5" y="992.0" width="167.0" height="57.0" rx="70.0" ry="28.5" fill="url(#gY)"/>
<text x="458.5" y="1030.3" text-anchor="middle" font-size="24" fill="#000">Rab3A</text>
<rect x="600.0" y="992.0" width="218.0" height="57.0" rx="90.0" ry="28.5" fill="url(#gY)"/>
<text x="710.5" y="1030.6" text-anchor="middle" font-size="24" fill="#000">ERC/CAST</text>
<rect x="483.2" y="1091.5" width="219.0" height="57.0" rx="90.0" ry="28.5" fill="url(#gY)"/>
<text x="595.7" y="1127.3" text-anchor="middle" font-size="24" fill="#000">piccolo</text>
<rect x="554.5" y="414.0" width="77.0" height="49.0" rx="22.0" ry="24.5" fill="url(#gT)"/>
<text x="591.5" y="445.6" text-anchor="middle" font-size="24" fill="#000">Rab5</text>
<rect x="540.0" y="484.0" width="105.0" height="49.0" rx="30.0" ry="24.5" fill="url(#gT)"/>
<text x="592.5" y="516.8" text-anchor="middle" font-size="24" fill="#000">syntenin</text>
<rect x="723.8" y="567.5" width="146.5" height="85.0" rx="45.0" ry="42.5" fill="url(#gT)"/>
<text x="795.0" y="604.0" text-anchor="middle" font-size="24" fill="#000">band 4.1</text>
<text x="797.0" y="632.0" text-anchor="middle" font-size="24" fill="#000">spectrin</text>
<rect x="928.0" y="583.5" width="76.0" height="49.0" rx="22.0" ry="24.5" fill="url(#gT)"/>
<text x="966.5" y="616.8" text-anchor="middle" font-size="24" fill="#000">actin</text>
<rect x="904.0" y="693.5" width="76.0" height="49.0" rx="22.0" ry="24.5" fill="url(#gT)"/>
<text x="942.5" y="727.3" text-anchor="middle" font-size="24" fill="#000">KIF1A</text>
<rect x="681.1" y="904.5" width="76.6" height="49.0" rx="22.0" ry="24.5" fill="url(#gT)"/>
<text x="719.4" y="939.3" text-anchor="middle" font-size="24" fill="#000">Rab6</text>
<rect x="839.2" y="1091.2" width="75.5" height="49.5" rx="22.0" ry="24.8" fill="url(#gT)"/>
<text x="876.0" y="1124.8" text-anchor="middle" font-size="24" fill="#000">GIT</text>
<rect x="755.7" y="746.9" width="167.0" height="57.3" rx="60.0" ry="28.6" fill="url(#gB)"/>
<text x="841.7" y="785.3" text-anchor="middle" font-size="24" fill="#000">Liprin</text>
<text x="22.8" y="80.6" font-size="23.7" fill="#000">Postynaptic</text>
<text x="207" y="282.8" font-size="24" fill="#000">Homophilic</text>
<text x="925.5" y="283.1" font-size="24" fill="#000">Heterophilic</text>
<text x="23" y="485.6" font-size="24" fill="#000">Presynaptic</text>
<g fill="#000">
<rect x="1193" y="20.1" width="14.8" height="6.5"/>
<path d="M1204.5,59 V36 C1204.5,17.5 1235,17.5 1235,36 V59 M1235,36 C1235,17.5 1264.5,17.5 1264.5,36 V59" fill="none" stroke="#000" stroke-width="6.4"/>
<path d="M1268.1,24.6 L1275.8,20.8 L1275.8,58.9 L1268.1,58.9 Z"/>
<circle cx="1268.9" cy="9.4" r="9.4" stroke="#fff" stroke-width="2.2"/>
<path d="M1263.8,-1 L1268.9,9.6 L1274.2,-1" fill="none" stroke="#fff" stroke-width="0.9"/>
</g>
</svg></body></html>
